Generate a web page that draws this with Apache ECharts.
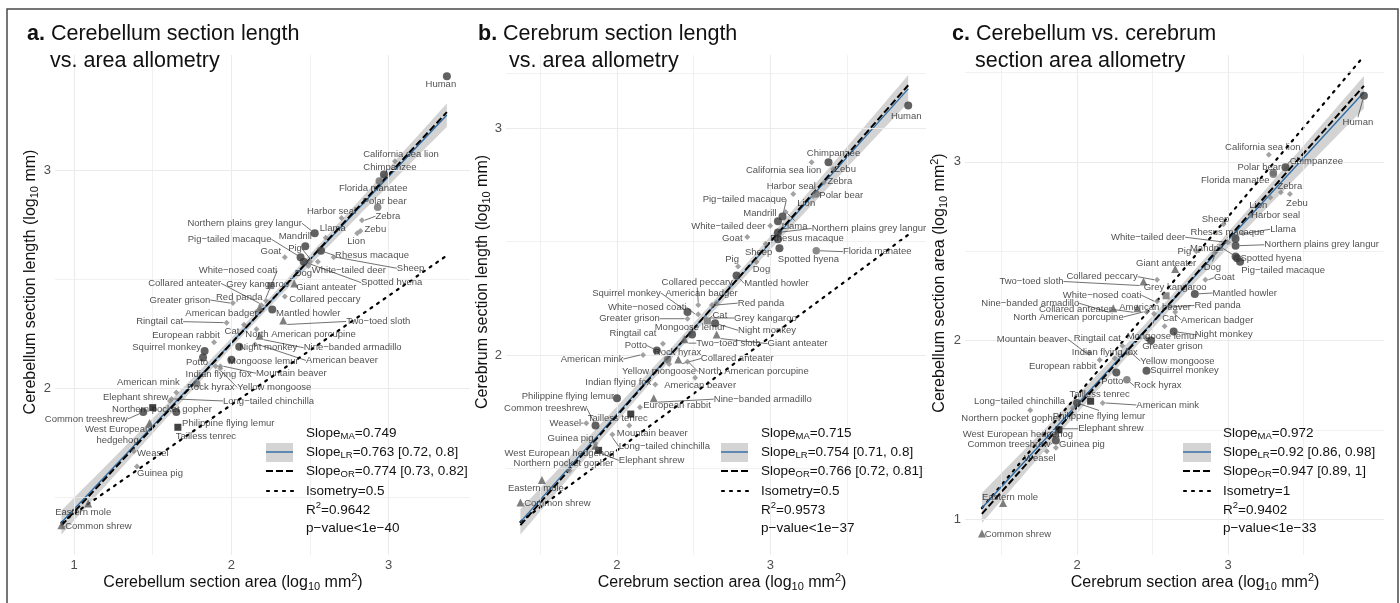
<!DOCTYPE html>
<html>
<head>
<meta charset="utf-8">
<script src="https://cdn.jsdelivr.net/npm/echarts@6/dist/echarts.min.js"></script>
<style>
html, body { margin: 0; padding: 0; background: #fff; }
#chart { width: 1400px; height: 603px; }
</style>
</head>
<body>
<div id="chart"></div>
<script>
// ---- Species and log10 brain-section measurements ----
const species = ['Human','Chimpanzee','California sea lion','Florida manatee','Polar bear','Zebra','Zebu','Harbor seal','Lion','Llama',
  'Northern plains grey langur','Mandrill','Pig\u2212tailed macaque','Rhesus macaque','Goat','Pig','Dog','White\u2212tailed deer','Sheep','Spotted hyena',
  'White\u2212nosed coati','Collared anteater','Grey kangaroo','Giant anteater','Collared peccary','Greater grison','Red panda','American badger','Mantled howler','Ringtail cat',
  'Two\u2212toed sloth','European rabbit','Cat','North American porcupine','Nine\u2212banded armadillo','Squirrel monkey','Night monkey','Potto','Mongoose lemur','American beaver',
  'Indian flying fox','Mountain beaver','American mink','Rock hyrax','Yellow mongoose','Elephant shrew','Long\u2212tailed chinchilla','Northern pocket gopher','Common treeshrew','Philippine flying lemur',
  'West European hedgehog','Tailless tenrec','Weasel','Guinea pig','Eastern mole','Common shrew'];

const cerebellumArea = [3.37,2.97,3.04,2.94,2.93,2.83,2.82,2.70,2.80,2.60,
  2.53,2.47,2.44,2.57,2.34,2.50,2.49,2.55,2.65,2.46,
  2.22,2.18,2.25,2.40,2.34,2.01,2.19,2.16,2.26,1.97,
  2.33,1.89,2.08,2.16,2.18,1.83,2.05,1.82,2.00,2.15,
  1.90,1.93,1.65,1.78,1.93,1.50,1.62,1.61,1.44,1.65,
  1.48,1.66,1.38,1.40,1.09,0.92];

const cerebellumLength = [3.43,2.98,3.04,2.95,2.83,2.77,2.72,2.78,2.71,2.69,
  2.71,2.65,2.60,2.63,2.60,2.58,2.56,2.58,2.60,2.58,
  2.40,2.37,2.47,2.48,2.42,2.39,2.38,2.35,2.36,2.30,
  2.31,2.21,2.29,2.27,2.24,2.17,2.19,2.14,2.13,2.20,
  2.10,2.10,1.98,2.02,2.09,1.91,1.95,1.94,1.89,1.89,
  1.84,1.82,1.71,1.64,1.47,1.37];

const cerebrumArea = [3.90,3.38,3.27,3.30,3.30,3.35,3.41,3.15,3.28,3.10,
  3.05,3.05,3.08,3.05,2.85,2.79,2.91,3.00,2.97,3.06,
  2.53,2.40,2.59,2.65,2.53,2.46,2.62,2.65,2.78,2.30,
  2.44,2.15,2.58,2.46,2.24,2.46,2.64,2.26,2.49,2.51,
  2.25,2.08,2.17,2.33,2.34,1.88,1.97,1.69,1.86,2.00,
  1.86,2.09,1.80,1.86,1.51,1.37];

const cerebrumLength = [3.10,2.85,2.85,2.46,2.71,2.76,2.82,2.71,2.70,2.63,
  2.54,2.59,2.61,2.51,2.52,2.39,2.41,2.57,2.49,2.47,
  2.18,1.98,2.15,2.09,2.22,2.16,2.22,2.23,2.35,2.05,
  2.07,1.77,2.16,1.97,1.81,2.19,2.14,2.02,2.09,1.90,
  1.87,1.69,2.00,1.98,1.96,1.58,1.65,1.49,1.69,1.81,
  1.60,1.74,1.70,1.61,1.45,1.35];

// marker class of each species
const markerClass = ['dark','dark','small','grey','grey','small','small','small','small','small',
  'dark','dark','dark','dark','small','small','small','small','small','dark',
  'small','tri','sqGrey','tri','small','small','small','small','dark','small',
  'tri','small','small','small','tri','dark','dark','dark','dark','small',
  'small','small','small','grey','small','sq','small','small','dark','dark',
  'tri','sq','small','small','tri','tri'];

// ---- Fitted statistics per panel ----
const slopeMA = [0.749, 0.715, 0.972];
const slopeLR = [0.763, 0.754, 0.92];
const ciLR = [[0.72, 0.8], [0.71, 0.8], [0.86, 0.98]];
const slopeOR = [0.774, 0.766, 0.947];
const ciOR = [[0.73, 0.82], [0.72, 0.81], [0.89, 1]];
const isometry = [0.5, 0.5, 1];
const rSquared = [0.9642, 0.9573, 0.9402];
const pValueExp = [40, 37, 33];

// ---- Axis tick labels and grid-line positions ----
const xTickLabels = [[1, 2, 3], [2, 3], [2, 3]];
const yTickLabels = [[2, 3], [2, 3], [1, 2, 3]];
const xGridValues = [[1, 1.5, 2, 2.5, 3], [1.5, 2, 2.5, 3, 3.5], [1.5, 2, 2.5, 3, 3.5]];
const yGridValues = [[1.5, 2, 2.5, 3], [1.5, 2, 2.5, 3, 3.24], [1, 1.5, 2, 2.5, 3, 3.5]];

// ---- Label nudges (pixels from the point to the label centre) ----
const nudgeA = [[-6,8],[6,-7],[6,-7],[-6,7],[7,-6],[26,-4],[15,-2],[-10,-7],[-1,8],[7,-9],
  [-70,-10],[-10,-10],[-71,-18],[51,5],[-14,-6],[-15,-13],[-5,7],[31,9],[77,11],[88,21],
  [-28,-30],[-75,-24],[-13,-1],[32,4],[40,3],[-53,-3],[-22,-8],[-35,2],[36,4],[-67,-1],
  [95,1],[-28,-7],[-12,7],[44,5],[93,12],[-38,-4],[29,1],[-6,5],[32,2],[87,16],
  [3,8],[71,7],[-28,-10],[14,4],[54,19],[-17,-10],[97,2],[-8,8],[-57,7],[52,11],
  [-32,12],[28,9],[19,2],[23,7],[-5,9],[37,1]];
const nudgeB = [[-2,11],[5,-9],[-28,8],[61,1],[25,1],[16,-1],[12,0],[-2,-8],[-7,7],[9,14],
  [91,-4],[-18,-8],[-38,-17],[29,-1],[-15,1],[-6,-7],[5,7],[-42,1],[-7,9],[29,11],
  [-51,-7],[59,-1],[58,-3],[81,9],[-1,-23],[-58,0],[49,-2],[-15,-9],[40,8],[-30,-10],
  [44,4],[37,-2],[14,-3],[66,10],[109,1],[-61,-19],[52,7],[-21,-5],[-2,-7],[5,8],
  [-37,-2],[23,8],[-51,4],[10,-7],[-10,7],[53,10],[52,12],[-6,-7],[-50,-17],[-49,-2],
  [-36,8],[-13,4],[-21,0],[-25,-5],[-6,8],[37,1]];
const nudgeC = [[-6,27],[31,-6],[-6,-7],[-38,8],[-14,-7],[9,-6],[7,9],[25,0],[-12,8],[40,-4],
  [86,-1],[-29,-8],[43,9],[-8,-6],[19,-2],[-12,0],[-2,14],[-80,-5],[-8,-5],[34,0],
  [-55,-6],[-62,1],[9,-8],[-9,-6],[-55,-3],[26,8],[47,-1],[42,8],[50,-1],[-25,-7],
  [-112,0],[-37,6],[5,-8],[-78,5],[-83,-5],[38,0],[50,3],[-4,9],[11,-4],[1,-6],
  [-10,-6],[-57,-14],[65,2],[31,6],[49,8],[52,-1],[-53,-7],[-19,8],[-47,4],[22,13],
  [-38,1],[9,-7],[-7,7],[26,-3],[7,-6],[36,1]];

const FONT = "'Liberation Sans', Arial, Helvetica, sans-serif";
const markerStyle = {
  dark:   { symbol: 'circle',   size: 8,   color: '#3a3a3a' },
  grey:   { symbol: 'circle',   size: 7.5, color: '#6e6e6e' },
  small:  { symbol: 'diamond',  size: 6,   color: '#8c8c8c' },
  tri:    { symbol: 'triangle', size: 8,   color: '#5f5f5f' },
  sq:     { symbol: 'rect',     size: 7,   color: '#111111' },
  sqGrey: { symbol: 'rect',     size: 7,   color: '#6e6e6e' }
};

// axis titles as rich text: {s|..} subscript, {p|..} superscript
const panels = [
  { x: cerebellumArea, y: cerebellumLength, nudge: nudgeA,
    grid: { left: 55, top: 55, width: 415, height: 500 }, xRange: [0.879, 3.517], yRange: [1.234, 3.528],
    title: ['a.', 'Cerebellum section length', 'vs. area allometry'], titleX: [27, 50],
    xTitle: '{n|Cerebellum section area (log}{s|10}{n| mm}{p|2}{n|)}',
    yTitle: '{n|Cerebellum section length (log}{s|10}{n| mm)}',
    xTitlePos: [233, 583], yTitlePos: [31, 282],
    legendX: 306, keyX: [266, 293], wrap: { 'West European hedgehog': 'West European\nhedgehog' } },
  { x: cerebrumArea, y: cerebrumLength, nudge: nudgeB,
    grid: { left: 506, top: 55, width: 420, height: 500 }, xRange: [1.276, 4.016], yRange: [1.119, 3.322],
    title: ['b.', 'Cerebrum section length', 'vs. area allometry'], titleX: [478, 509],
    xTitle: '{n|Cerebrum section area (log}{s|10}{n| mm}{p|2}{n|)}',
    yTitle: '{n|Cerebrum section length (log}{s|10}{n| mm)}',
    xTitlePos: [722, 583], yTitlePos: [483, 282],
    legendX: 761, keyX: [721, 748], wrap: {} },
  { x: cerebrumArea, y: cerebellumArea, nudge: nudgeC,
    grid: { left: 965, top: 55, width: 419, height: 500 }, xRange: [1.258, 4.033], yRange: [0.799, 3.598],
    title: ['c.', 'Cerebellum vs. cerebrum', 'section area allometry'], titleX: [952, 975],
    xTitle: '{n|Cerebrum section area (log}{s|10}{n| mm}{p|2}{n|)}',
    yTitle: '{n|Cerebellum section area (log}{s|10}{n| mm}{p|2}{n|)}',
    xTitlePos: [1195, 583], yTitlePos: [940, 283],
    legendX: 1223, keyX: [1183, 1211], wrap: {} }
];

// Least-squares summary for a line of fixed slope through the centroid
function lineStats(xs, ys, b) {
  const n = xs.length;
  const mx = xs.reduce((s, v) => s + v, 0) / n;
  const my = ys.reduce((s, v) => s + v, 0) / n;
  const a = my - b * mx;
  let sxx = 0, sse = 0;
  for (let i = 0; i < n; i++) {
    sxx += (xs[i] - mx) * (xs[i] - mx);
    const r = ys[i] - a - b * xs[i];
    sse += r * r;
  }
  return { n, mx, my, a, sxx, s: Math.sqrt(sse / (n - 2)),
    xmin: Math.min.apply(null, xs), xmax: Math.max.apply(null, xs) };
}

const richBase = {
  n: { fontSize: 16, fontFamily: FONT, color: '#111', fill: '#111' },
  s: { fontSize: 11, fontFamily: FONT, color: '#111', fill: '#111', padding: [8, 0, 0, 0] },
  p: { fontSize: 11, fontFamily: FONT, color: '#111', fill: '#111', padding: [0, 0, 10, 0] }
};
const richLegend = {
  n: { fontSize: 13.5, fontFamily: FONT, color: '#111', fill: '#111' },
  s: { fontSize: 9.5, fontFamily: FONT, color: '#111', fill: '#111', padding: [7, 0, 0, 0] },
  p: { fontSize: 9.5, fontFamily: FONT, color: '#111', fill: '#111', padding: [0, 0, 9, 0] }
};

function textEl(x, y, text, rich, opts) {
  opts = opts || {};
  return {
    type: 'text', x: x, y: y, rotation: opts.rotation || 0, silent: true, z: 100,
    style: { text: text, rich: rich, fontFamily: FONT, fontSize: opts.fontSize || 13,
      fill: '#111', align: opts.align || 'left', verticalAlign: 'middle',
      textAlign: opts.align || 'left', textVerticalAlign: 'middle' }
  };
}

const grids = [], xAxes = [], yAxes = [], series = [], graphics = [];

// outer frame
graphics.push({ type: 'rect', silent: true, z: 100, shape: { x: 7, y: 9, width: 1391, height: 600 },
  style: { fill: 'none', stroke: '#4a4a4a', lineWidth: 1.5 } });

panels.forEach((P, k) => {
  grids.push(Object.assign({ containLabel: false, outerBoundsMode: 'none' }, P.grid));
  xAxes.push({ type: 'value', gridIndex: k, min: P.xRange[0], max: P.xRange[1],
    axisLine: { show: false }, axisTick: { show: false }, splitLine: { show: false },
    axisLabel: { customValues: xTickLabels[k], margin: 4, color: '#4d4d4d', fontSize: 13, fontFamily: FONT,
      formatter: v => String(Math.round(v * 10) / 10) } });
  yAxes.push({ type: 'value', gridIndex: k, min: P.yRange[0], max: P.yRange[1],
    axisLine: { show: false }, axisTick: { show: false }, splitLine: { show: false },
    axisLabel: { customValues: yTickLabels[k], margin: 4, color: '#4d4d4d', fontSize: 13, fontFamily: FONT,
      formatter: v => String(Math.round(v * 10) / 10) } });

  const st = lineStats(P.x, P.y, slopeLR[k]);
  const aOR = st.my - slopeOR[k] * st.mx;
  const y0 = st.a + slopeLR[k] * st.xmin;

  // panel grid lines
  const gridLines = [];
  xGridValues[k].forEach(v => gridLines.push({ xAxis: v, lineStyle: { color: '#ebebeb', width: v % 1 === 0 ? 1.1 : 0.7, type: 'solid' } }));
  yGridValues[k].forEach(v => gridLines.push({ yAxis: v, lineStyle: { color: '#ebebeb', width: v % 1 === 0 ? 1.1 : 0.7, type: 'solid' } }));
  series.push({ type: 'line', xAxisIndex: k, yAxisIndex: k, data: [[P.xRange[0], P.yRange[0]]], symbol: 'none',
    lineStyle: { opacity: 0 }, silent: true, z: 0, animation: false,
    markLine: { silent: true, symbol: 'none', label: { show: false }, animation: false, data: gridLines } });

  // confidence band of the LR fit
  const band = [];
  const steps = 60;
  for (let i = 0; i <= steps; i++) {
    const xv = st.xmin + (st.xmax - st.xmin) * i / steps;
    const h = 2.005 * st.s * Math.sqrt(1 / st.n + (xv - st.mx) * (xv - st.mx) / st.sxx);
    band.push([xv, st.a + slopeLR[k] * xv + h]);
  }
  for (let i = steps; i >= 0; i--) {
    const xv = st.xmin + (st.xmax - st.xmin) * i / steps;
    const h = 2.005 * st.s * Math.sqrt(1 / st.n + (xv - st.mx) * (xv - st.mx) / st.sxx);
    band.push([xv, st.a + slopeLR[k] * xv - h]);
  }
  series.push({ type: 'custom', xAxisIndex: k, yAxisIndex: k, coordinateSystem: 'cartesian2d', silent: true, z: 1,
    animation: false, data: [[st.mx, st.my]],
    renderItem: (params, api) => ({ type: 'polygon', shape: { points: band.map(p => api.coord(p)) },
      style: { fill: 'rgba(150,150,150,0.42)' } }) });

  // isometry, LR and OR lines
  series.push({ type: 'line', xAxisIndex: k, yAxisIndex: k, symbol: 'none', silent: true, z: 2, animation: false,
    data: [[st.xmin, y0], [st.xmax, y0 + isometry[k] * (st.xmax - st.xmin)]],
    lineStyle: { color: '#000', width: 2.2, type: [2, 6], cap: 'round' } });
  series.push({ type: 'line', xAxisIndex: k, yAxisIndex: k, symbol: 'none', silent: true, z: 3, animation: false,
    data: [[st.xmin, st.a + slopeLR[k] * st.xmin], [st.xmax, st.a + slopeLR[k] * st.xmax]],
    lineStyle: { color: '#2c6ba3', width: 1.3 } });
  series.push({ type: 'line', xAxisIndex: k, yAxisIndex: k, symbol: 'none', silent: true, z: 4, animation: false,
    data: [[st.xmin, aOR + slopeOR[k] * st.xmin], [st.xmax, aOR + slopeOR[k] * st.xmax]],
    lineStyle: { color: '#000', width: 2, type: [7, 3] } });

  // species points with repelled labels
  const pts = species.map((name, i) => {
    const m = markerStyle[markerClass[i]];
    const off = P.nudge[i];
    const txt = P.wrap[name] || name;
    const lines = txt.split('\n');
    const halfW = Math.max.apply(null, lines.map(l => l.length)) * 4.5 / 2;
    const halfH = lines.length * 5.5;
    const gx = Math.max(0, Math.abs(off[0]) - halfW - 3);
    const gy = Math.max(0, Math.abs(off[1]) - halfH - 3);
    return { name: name, value: [P.x[i], P.y[i]], symbol: m.symbol, symbolSize: m.size,
      itemStyle: { color: m.color },
      labelLine: { show: Math.sqrt(gx * gx + gy * gy) > 3 } };
  });
  series.push({ type: 'scatter', xAxisIndex: k, yAxisIndex: k, z: 5, animation: false, silent: true,
    data: pts,
    label: { show: true, fontSize: 9.5, fontFamily: FONT, color: '#1e1e1e', lineHeight: 11,
      formatter: p => P.wrap[p.name] || p.name },
    labelLine: { show: true, lineStyle: { color: '#333', width: 0.7 } },
    labelLayout: (p) => {
      const off = P.nudge[p.dataIndex];
      const cx = p.rect.x + p.rect.width / 2, cy = p.rect.y + p.rect.height / 2;
      return { x: cx + off[0], y: cy + off[1], align: 'center', verticalAlign: 'middle', hideOverlap: false };
    } });

  // titles
  graphics.push(textEl(P.titleX[0], 34, '{b|' + P.title[0] + '} {t|' + P.title[1] + '}',
    { b: { fontSize: 21.5, fontWeight: 'bold', fontFamily: FONT, fill: '#111', color: '#111' },
      t: { fontSize: 21.5, fontFamily: FONT, fill: '#111', color: '#111' } }, { fontSize: 21.5 }));
  graphics.push(textEl(P.titleX[1], 61, '{t|' + P.title[2] + '}',
    { t: { fontSize: 21.5, fontFamily: FONT, fill: '#111', color: '#111' } }, { fontSize: 21.5 }));

  // axis titles
  graphics.push(textEl(P.xTitlePos[0], P.xTitlePos[1], P.xTitle, richBase, { align: 'center', fontSize: 16 }));
  graphics.push(textEl(P.yTitlePos[0], P.yTitlePos[1], P.yTitle, richBase,
    { align: 'center', fontSize: 16, rotation: Math.PI / 2 }));

  // statistics legend
  const L = P.legendX, kx = P.keyX;
  const rows = [433, 452, 471, 491, 510, 528];
  graphics.push({ type: 'rect', silent: true, z: 100, shape: { x: kx[0], y: 443, width: kx[1] - kx[0], height: 19 },
    style: { fill: '#d4d4d4' } });
  graphics.push({ type: 'line', silent: true, z: 101, shape: { x1: kx[0], y1: rows[1], x2: kx[1], y2: rows[1] },
    style: { stroke: '#2c6ba3', lineWidth: 1.4 } });
  graphics.push({ type: 'line', silent: true, z: 101, shape: { x1: kx[0], y1: rows[2], x2: kx[1], y2: rows[2] },
    style: { stroke: '#000', lineWidth: 2, lineDash: [7, 3] } });
  graphics.push({ type: 'line', silent: true, z: 101, shape: { x1: kx[0] + 1, y1: rows[3], x2: kx[1], y2: rows[3] },
    style: { stroke: '#000', lineWidth: 2.2, lineDash: [2, 6], lineCap: 'round' } });
  const legendTexts = [
    '{n|Slope}{s|MA}{n|=' + slopeMA[k] + '}',
    '{n|Slope}{s|LR}{n|=' + slopeLR[k] + ' [' + ciLR[k][0] + ', ' + ciLR[k][1] + ']}',
    '{n|Slope}{s|OR}{n|=' + slopeOR[k] + ' [' + ciOR[k][0] + ', ' + ciOR[k][1] + ']}',
    '{n|Isometry=' + isometry[k] + '}',
    '{n|R}{p|2}{n|=' + rSquared[k] + '}',
    '{n|p\u2212value<1e\u2212' + pValueExp[k] + '}'
  ];
  legendTexts.forEach((t, i) => graphics.push(textEl(L, rows[i], t, richLegend, { fontSize: 13.5 })));
});

const chart = echarts.init(document.getElementById('chart'), null, { renderer: 'canvas' });
chart.setOption({
  animation: false,
  backgroundColor: '#ffffff',
  grid: grids,
  xAxis: xAxes,
  yAxis: yAxes,
  series: series,
  graphic: { elements: graphics }
});
</script>
</body>
</html>
